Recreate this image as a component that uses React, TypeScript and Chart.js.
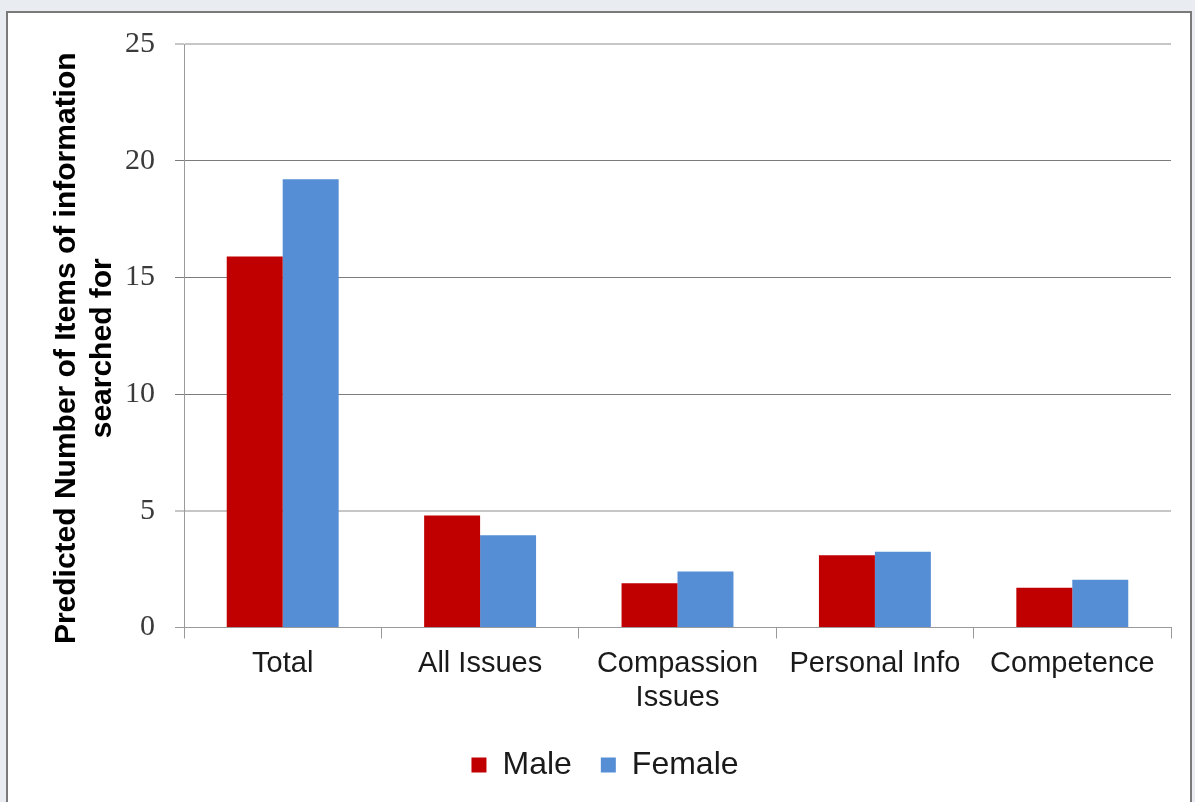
import React, { useEffect, useRef } from "react";
import { Chart, registerables } from "chart.js";

Chart.register(...registerables);

const categories: (string | string[])[] = [
  "Total",
  "All Issues",
  ["Compassion", "Issues"],
  "Personal Info",
  "Competence",
];
const maleValues = [15.9, 4.8, 1.9, 3.1, 1.7];
const femaleValues = [19.2, 3.95, 2.4, 3.25, 2.05];
const yTicks = [0, 5, 10, 15, 20, 25];
const yTitle = ["Predicted Number of Items of information   ", "searched for   "];
const seriesNames = ["Male", "Female"];

const W = 1182;
const H = 786;

export default function App() {
  const ref = useRef<HTMLCanvasElement | null>(null);

  useEffect(() => {
    if (!ref.current) return;
    const chart = new Chart(ref.current, {
      type: "bar",
      data: {
        labels: categories,
        datasets: [
          {
            label: seriesNames[0],
            data: maleValues,
            backgroundColor: "#C00000",
            borderWidth: 0,
            categoryPercentage: 0.567,
            barPercentage: 1.0,
          },
          {
            label: seriesNames[1],
            data: femaleValues,
            backgroundColor: "#558ED5",
            borderWidth: 0,
            categoryPercentage: 0.567,
            barPercentage: 1.0,
          },
        ],
      },
      options: {
        animation: false,
        responsive: false,
        devicePixelRatio: 1,
        layout: { padding: { left: 31, right: 19, top: 31, bottom: 8 } },
        plugins: {
          tooltip: { enabled: false },
          legend: {
            position: "bottom",
            labels: {
              boxWidth: 15,
              boxHeight: 15,
              padding: 29,
              color: "#1a1a1a",
              font: { family: "'Liberation Sans', Arial, sans-serif", size: 32 },
            },
          },
        },
        scales: {
          x: {
            afterFit: (s: any) => {
              s.height = 92.5;
            },
            grid: {
              offset: true,
              drawOnChartArea: false,
              drawTicks: true,
              tickLength: 11,
              color: "#9a9a9a",
            },
            border: { color: "#9a9a9a", width: 1 },
            ticks: {
              color: "#1a1a1a",
              padding: 9,
              maxRotation: 0,
              autoSkip: false,
              font: {
                family: "'Liberation Sans', Arial, sans-serif",
                size: 29,
                lineHeight: 1.15,
              },
            },
          },
          y: {
            min: 0,
            max: 25,
            afterFit: (s: any) => {
              s.width = 145;
              s.paddingTop = 0;
              s.paddingBottom = 0;
            },
            afterBuildTicks: (s: any) => {
              s.ticks = yTicks.map((v) => ({ value: v }));
            },
            grid: {
              color: (ctx: any) => {
                const v = ctx.tick ? ctx.tick.value : 0;
                if (v === 0) return "#9a9a9a";
                if (v === 5 || v === 25) return "#c6c6c6";
                return "#7c7c7c";
              },
              lineWidth: (ctx: any) => {
                const v = ctx.tick ? ctx.tick.value : 0;
                return v === 5 || v === 25 ? 2 : 1;
              },
              drawTicks: true,
              tickLength: 9,
            },
            border: { color: "#9a9a9a", width: 1 },
            ticks: {
              color: "#3a3a3a",
              padding: 20,
              font: { family: "'Liberation Serif', 'Times New Roman', serif", size: 30 },
            },
            title: {
              display: true,
              text: yTitle,
              color: "#000000",
              padding: { top: 10, bottom: 0 },
              font: {
                family: "'Liberation Sans', Arial, sans-serif",
                size: 30,
                weight: "bold",
                lineHeight: 1.2,
              },
            },
          },
        },
      },
    });
    return () => chart.destroy();
  }, []);

  return (
    <div
      style={{
        position: "fixed",
        inset: 0,
        overflow: "hidden",
        background: "#e9ecf0",
      }}
    >
      <div
        style={{
          position: "absolute",
          left: 6,
          top: 11,
          width: 1186,
          height: 800,
          boxSizing: "border-box",
          border: "2px solid #7a7a7a",
          background: "#ffffff",
        }}
      >
        <canvas
          ref={ref}
          width={W}
          height={H}
          style={{ position: "absolute", left: 0, top: 0, width: W, height: H, display: "block" }}
        />
      </div>
    </div>
  );
}
